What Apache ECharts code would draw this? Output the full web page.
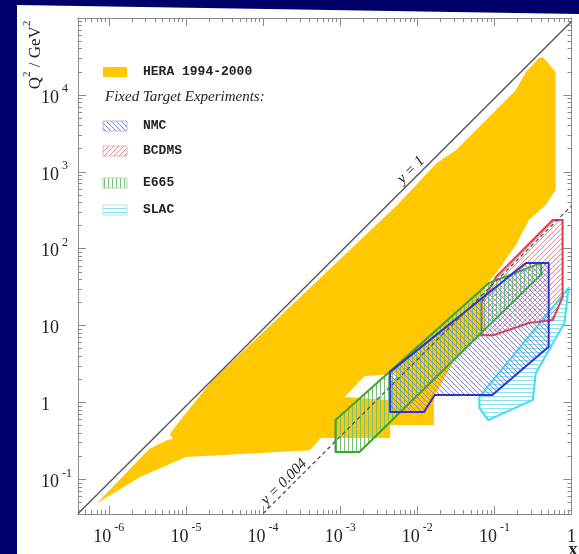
<!DOCTYPE html>
<html>
<head>
<meta charset="utf-8">
<script src="https://cdn.jsdelivr.net/npm/echarts@6/dist/echarts.min.js"></script>
<style>
  html, body { margin: 0; padding: 0; background: #00006b; }
  #chart { width: 579px; height: 554px; }
</style>
</head>
<body>
<div id="chart"></div>
<script>
// decades shown as labels (log10 of x and of Q^2)
const xTickLabels = [-6, -5, -4, -3, -2, -1, 0];
const yTickLabels = [-1, 0, 1, 2, 3, 4];

// HERA 1994-2000 region, x and Q^2 (GeV^2)
const heraX = [7.0e-7, 3.35e-6, 5.7e-6, 6.8e-6, 6.2e-6, 7.2e-6, 2.16e-5, 5.5e-3, 0.0179, 0.032,
  0.19, 0.256, 0.377, 0.424, 0.623, 0.623, 0.463, 0.28, 0.19, 0.105, 0.072, 0.072, 0.032,
  0.0164, 0.0164, 4.45e-3, 4.45e-3, 5.6e-4, 4.05e-4, 1.0e-5, 2.5e-6];
const heraQ2 = [0.049, 0.248, 0.325, 0.335, 0.39, 0.48, 1.9, 370, 1300, 1920,
  11600, 19900, 30200, 31100, 19900, 580, 370, 236, 112, 48, 31, 8.0, 3.9,
  1.18, 0.51, 0.51, 0.345, 0.345, 0.24, 0.195, 0.107];
// uncovered gap inside the HERA region
const gapX = [1.14e-3, 2.06e-3, 5.8e-3, 4.45e-3, 4.45e-3];
const gapQ2 = [1.18, 2.2, 2.4, 1.74, 1.08];

const nmcX = [4.45e-3, 4.45e-3, 0.0122, 0.0168, 0.094, 0.506, 0.506, 0.256];
const nmcQ2 = [2.5, 0.75, 0.75, 1.25, 1.25, 5.3, 65, 65];

const bcdmsX = [0.0677, 0.0677, 0.0965, 0.28, 0.57, 0.766, 0.766, 0.57, 0.105];
const bcdmsQ2 = [19.7, 7.5, 7.5, 10.8, 11.8, 23.5, 236, 236, 43];

const e665X = [8.7e-4, 1.78e-3, 0.41, 0.40, 0.0857, 8.7e-4];
const e665Q2 = [0.227, 0.227, 47, 65, 36, 0.59];

const slacX = [0.0638, 0.0638, 0.083, 0.315, 0.344, 0.81, 0.915];
const slacQ2 = [1.18, 0.85, 0.59, 1.08, 2.4, 10.8, 31];

// kinematic limits y = 1 and y = 0.004
const y1X = [4e-7, 1];
const y1Q2 = [0.036, 90200];
const y004X = [1e-4, 1];
const y004Q2 = [0.036, 361];

const serif = "'Liberation Serif', 'DejaVu Serif', serif";
const mono = "'Liberation Mono', 'DejaVu Sans Mono', monospace";

function hatch(kind, color, step) {
  const c = document.createElement('canvas');
  c.width = step;
  c.height = step;
  const g = c.getContext('2d');
  g.strokeStyle = color;
  g.lineWidth = 1;
  g.beginPath();
  if (kind === 'v') {
    g.moveTo(0.5, 0); g.lineTo(0.5, step);
  } else if (kind === 'h') {
    g.moveTo(0, 0.5); g.lineTo(step, 0.5);
  } else if (kind === '/') {
    for (let k = -1; k <= 1; k++) { g.moveTo(k * step, step); g.lineTo(k * step + step, 0); }
  } else {
    for (let k = -1; k <= 1; k++) { g.moveTo(k * step, 0); g.lineTo(k * step + step, step); }
  }
  g.stroke();
  return { image: c, repeat: 'repeat' };
}

const nmcFill = hatch('\\', '#8282dc', 5);
const bcdmsFill = hatch('/', '#e88a96', 5);
const e665Fill = hatch('v', '#78c078', 4);
const slacFill = hatch('h', '#8ae2f0', 4);

function toLog(xs, qs) {
  return xs.map((x, i) => [Math.log10(x), Math.log10(qs[i])]);
}

function polySeries(name, xs, qs, fill, stroke, z) {
  return {
    type: 'custom',
    name: name,
    z: z,
    silent: true,
    data: toLog(xs, qs),
    renderItem: (params, api) => {
      if (params.dataIndex !== 0) return null;
      const pts = [];
      for (let i = 0; i < xs.length; i++) {
        pts.push(api.coord([api.value(0, i), api.value(1, i)]));
      }
      const style = { fill: fill, stroke: stroke || null, lineWidth: stroke ? 2 : 0, lineJoin: 'round' };
      // hatched areas darken what lies below them, like overprinted ink
      if (stroke) style.blend = 'multiply';
      return { type: 'polygon', shape: { points: pts }, style: style };
    }
  };
}

// minor tick positions (2..9 within each decade)
const minorX = [];
const minorY = [];
for (let d = -7; d < 0; d++) {
  for (let k = 2; k <= 9; k++) {
    const v = d + Math.log10(k);
    if (v > -6.4 && v < 0) minorX.push(v);
  }
}
for (let d = -2; d < 5; d++) {
  for (let k = 2; k <= 9; k++) {
    const v = d + Math.log10(k);
    if (v > -1.45 && v < 5) minorY.push(v);
  }
}

function powLabel(v) {
  const p = Math.round(v);
  if (p === 0) return '{b|1}';
  if (p === 1) return '{b|10}';
  return '{b|10}{s|' + p + '}';
}

const rich = {
  b: { fontFamily: serif, fontSize: 18, color: '#222', lineHeight: 24, verticalAlign: 'bottom' },
  s: { fontFamily: serif, fontSize: 12, color: '#222', lineHeight: 24, verticalAlign: 'top', padding: [0, 0, 0, 3] }
};

const axisGray = '#8a8a8a';

function makeAxis(min, max, pos, ticks, len, labels, margin, align) {
  const ax = {
    type: 'value',
    min: min,
    max: max,
    position: pos,
    splitLine: { show: false },
    axisLine: { show: true, onZero: false, lineStyle: { color: axisGray, width: 1 } },
    axisTick: { inside: true, length: len, customValues: ticks, lineStyle: { color: axisGray } },
    axisLabel: { show: false }
  };
  if (labels) {
    ax.axisLabel = {
      show: true,
      customValues: labels,
      formatter: powLabel,
      rich: rich,
      margin: margin
    };
    if (align) ax.axisLabel.align = align;
  }
  return ax;
}

const chart = echarts.init(document.getElementById('chart'));

function legendItem(y, label, fill, border) {
  return [
    { type: 'rect', shape: { x: 103, y: y - 5, width: 24, height: 10 },
      style: { fill: fill, stroke: border || null, lineWidth: border ? 1 : 0 } },
    { type: 'text', x: 143, y: y,
      style: { text: label, font: 'bold 13px ' + mono, fill: '#222', verticalAlign: 'middle' } }
  ];
}

const option = {
  animation: false,
  backgroundColor: 'transparent',
  grid: { left: 78, right: 3, top: 18, bottom: 40, containLabel: false },
  xAxis: [
    makeAxis(-6.4, 0, 'bottom', minorX, 4, xTickLabels, 8),
    makeAxis(-6.4, 0, 'bottom', xTickLabels, 8, null),
    makeAxis(-6.4, 0, 'top', minorX, 4, null),
    makeAxis(-6.4, 0, 'top', xTickLabels, 8, null)
  ],
  yAxis: [
    makeAxis(-1.45, 5, 'left', minorY, 4, yTickLabels, 37, 'left'),
    makeAxis(-1.45, 5, 'left', [-1, 0, 1, 2, 3, 4], 8, null),
    makeAxis(-1.45, 5, 'right', minorY, 4, null),
    makeAxis(-1.45, 5, 'right', [-1, 0, 1, 2, 3, 4], 8, null)
  ],
  series: [
    polySeries('HERA 1994-2000', heraX, heraQ2, '#ffc800', null, 2),
    polySeries('gap', gapX, gapQ2, '#ffffff', null, 3),
    polySeries('SLAC', slacX, slacQ2, slacFill, '#3fdff0', 4),
    polySeries('BCDMS', bcdmsX, bcdmsQ2, bcdmsFill, '#e23a4a', 5),
    polySeries('E665', e665X, e665Q2, e665Fill, '#3aa52a', 6),
    polySeries('NMC', nmcX, nmcQ2, nmcFill, '#3232d2', 7),
    {
      type: 'line', z: 8, silent: true, symbol: 'none',
      data: toLog(y1X, y1Q2),
      lineStyle: { color: '#555', width: 1.4 }
    },
    {
      type: 'line', z: 8, silent: true, symbol: 'none',
      data: toLog(y004X, y004Q2),
      lineStyle: { color: '#555', width: 1.3, type: [4, 3] }
    }
  ],
  graphic: [
    { type: 'polygon', z: -100, silent: true,
      shape: { points: [[17, 5], [579, 14], [579, 554], [17, 554]] },
      style: { fill: '#ffffff' } },
    { type: 'text', x: 33, y: 55, rotation: Math.PI / 2,
      style: {
        text: '{t|Q}{s|2}{t| / GeV}{s|2}',
        align: 'center', verticalAlign: 'middle',
        rich: {
          t: { fontFamily: serif, fontSize: 17, fill: '#222', lineHeight: 22, verticalAlign: 'bottom' },
          s: { fontFamily: serif, fontSize: 11, fill: '#222', lineHeight: 22, verticalAlign: 'top' }
        }
      } },
    { type: 'text', x: 573, y: 550,
      style: { text: 'x', font: 'bold 18px ' + serif, fill: '#222', align: 'center', verticalAlign: 'middle' } },
    { type: 'text', x: 411, y: 170, rotation: Math.PI / 4,
      style: { text: 'y = 1', font: 'italic 15px ' + serif, fill: '#222', align: 'center', verticalAlign: 'middle' } },
    { type: 'text', x: 284, y: 482, rotation: Math.PI / 4,
      style: { text: 'y = 0.004', font: 'italic 15px ' + serif, fill: '#222', align: 'center', verticalAlign: 'middle' } },
    ...legendItem(72, 'HERA 1994-2000', '#ffc800', null),
    { type: 'text', x: 105, y: 97,
      style: { text: 'Fixed Target Experiments:', font: 'italic 15px ' + serif, fill: '#222', verticalAlign: 'middle' } },
    ...legendItem(126, 'NMC', nmcFill, '#b4b4e6'),
    ...legendItem(151, 'BCDMS', bcdmsFill, '#eeb0b8'),
    ...legendItem(183, 'E665', e665Fill, '#a8d8a8'),
    ...legendItem(210, 'SLAC', slacFill, '#a8e8f2')
  ]
};

chart.setOption(option);
</script>
</body>
</html>
